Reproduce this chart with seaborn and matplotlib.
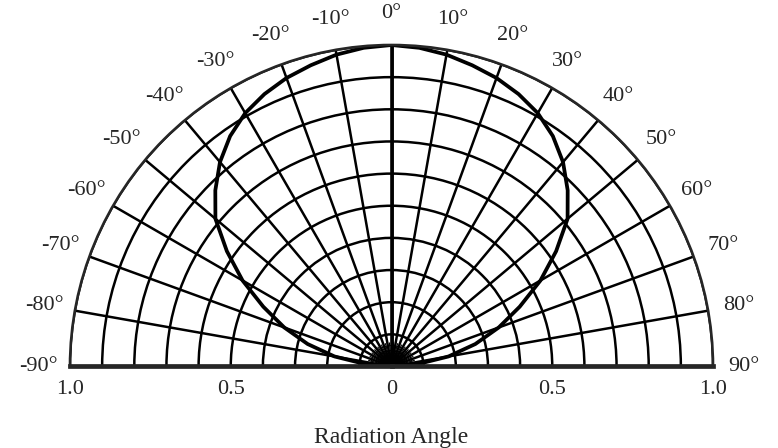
import matplotlib
matplotlib.use("Agg")
import matplotlib.pyplot as plt
import seaborn as sns
import numpy as np

# radiation pattern (relative intensity vs angle)
angle_deg = [-90, -85, -80, -75, -70, -65, -60, -55, -50, -45, -40, -35, -30, -25, -20, -15, -10, -5,
             0, 5, 10, 15, 20, 25, 30, 35, 40, 45, 50, 55, 60, 65, 70, 75, 80, 85, 90]
rel_intensity = [0.0, 0.08, 0.18, 0.27, 0.355, 0.44, 0.535, 0.625, 0.715, 0.775, 0.83, 0.875, 0.91, 0.935, 0.955, 0.97, 0.985, 0.995,
                 1.0, 0.995, 0.985, 0.97, 0.955, 0.935, 0.91, 0.875, 0.83, 0.775, 0.715, 0.625, 0.535, 0.44, 0.355, 0.27, 0.18, 0.08, 0.0]

theta_ticks = list(range(-90, 91, 10))
theta_labels = [f"{a}°" for a in theta_ticks]
fine_ticks = [a for a in range(-85, 90, 5) if a % 10 != 0]
r_ticks = [0.1, 0.2, 0.3, 0.4, 0.5, 0.6, 0.7, 0.8, 0.9, 1.0]
inner_rings = [0.02, 0.035, 0.05, 0.065]
x_ticks = [-1.0, -0.5, 0.0, 0.5, 1.0]
x_labels = ["1.0", "0.5", "0", "0.5", "1.0"]

sns.set_style("white")
plt.rcParams["font.family"] = ["Liberation Serif", "DejaVu Serif"]

W, H = 778, 448
cx, cy, R = 391.5, 366.5, 321.5   # centre and radius of the half disc, in pixels

fig = plt.figure(figsize=(W / 100, H / 100), dpi=100)
# polar axes with a half wedge: box must be 2R square, centred on the wedge
wedge_mid = cy - R / 2
ax = fig.add_axes([(cx - R) / W, (H - wedge_mid - R) / H, 2 * R / W, 2 * R / H], projection="polar")
ax.set_theta_zero_location("N")
ax.set_theta_direction(-1)
ax.set_thetamin(-90)
ax.set_thetamax(90)
ax.set_ylim(0, 1)

ax.set_rticks(r_ticks)
ax.set_yticklabels([])
ax.set_thetagrids(theta_ticks, theta_labels, fontsize=16)
ax.tick_params(axis="x", pad=12)
ax.grid(True, color="black", lw=1.8)

# dense little fan and rings right at the centre
ax.vlines(np.radians(fine_ticks), 0, 0.075, color="black", lw=0.8)
ring_theta = np.radians(np.linspace(-90, 90, 181))
for rr in inner_rings:
    ax.plot(ring_theta, [rr] * len(ring_theta), color="black", lw=0.7)
ax.vlines(0, 0, 1, color="black", lw=2.6)

sns.lineplot(x=np.radians(angle_deg), y=rel_intensity, ax=ax, color="black", lw=2.7,
             sort=False, estimator=None)
ax.set_xlabel("")
ax.set_ylabel("")

ax.spines["polar"].set_linewidth(1.9)
ax.spines["start"].set_linewidth(3.4)
ax.spines["end"].set_linewidth(3.4)

# flat axis for the bottom distance labels
bx = fig.add_axes([(cx - R) / W, (H - cy) / H, 2 * R / W, 0.001])
bx.patch.set_visible(False)
for s in bx.spines.values():
    s.set_visible(False)
bx.set_xlim(-1, 1)
bx.set_yticks([])
bx.set_xticks(x_ticks, x_labels)
bx.tick_params(axis="x", length=0, pad=10, labelsize=16)
bx.set_xlabel("Radiation Angle", fontsize=17, labelpad=20)

fig.savefig("out.png", dpi=100)
